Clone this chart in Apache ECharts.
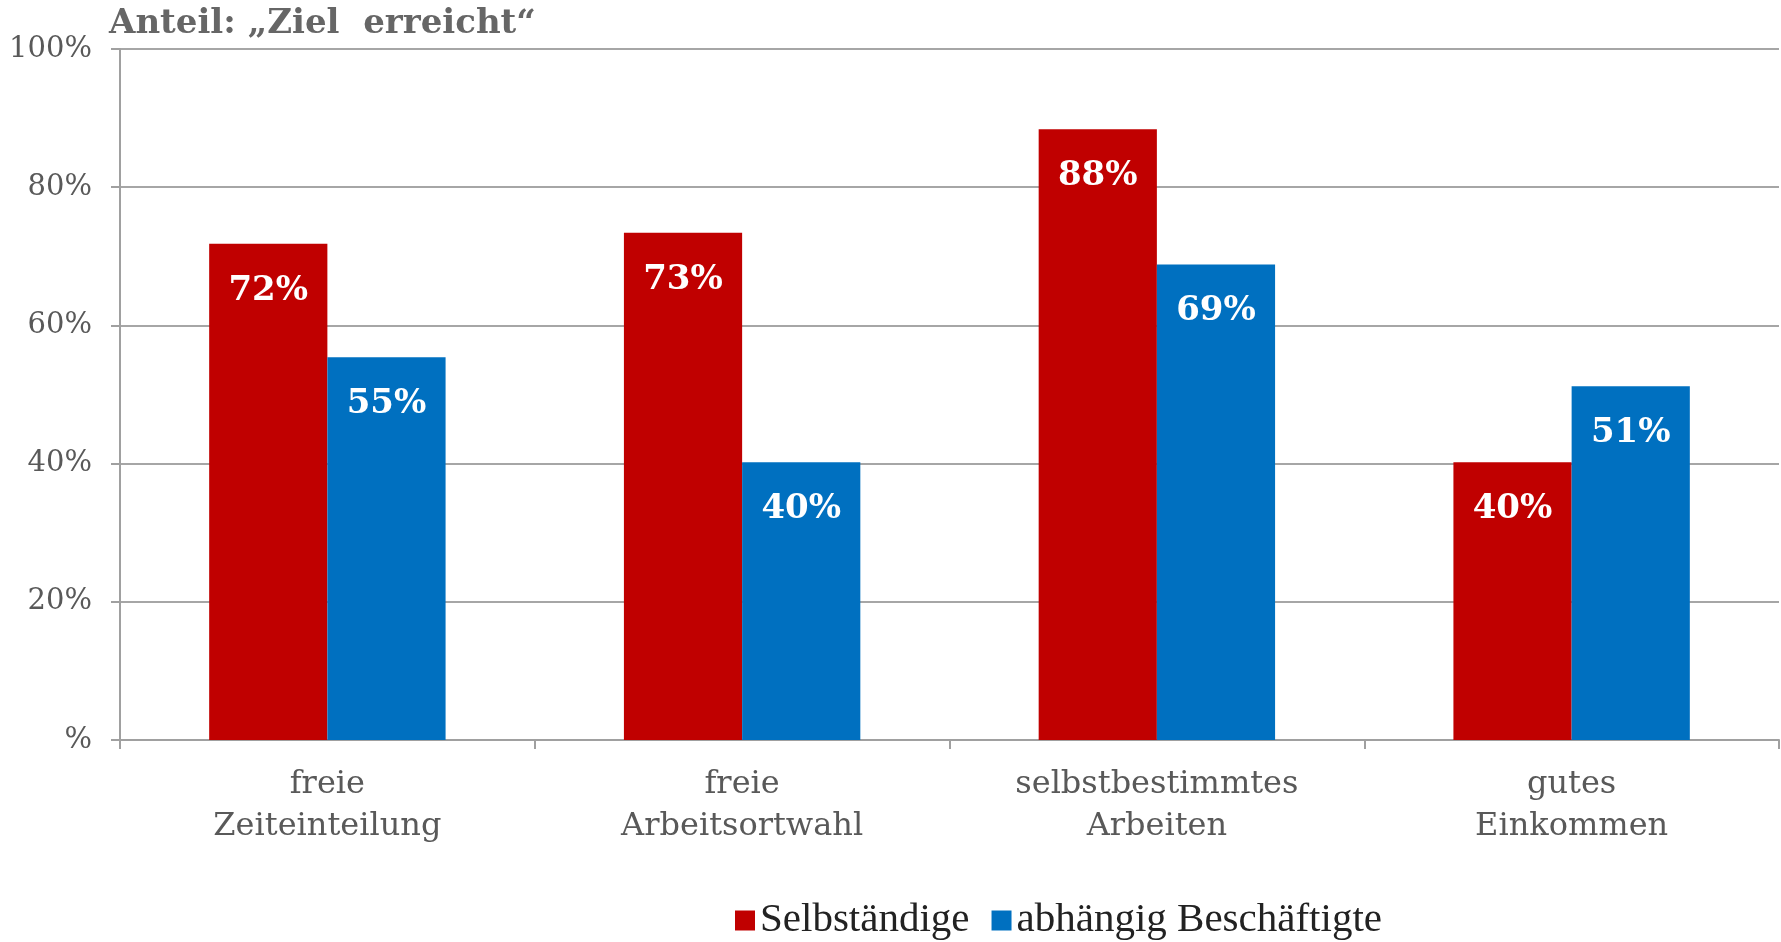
<!DOCTYPE html>
<html>
<head>
<meta charset="utf-8">
<title>Anteil: Ziel erreicht</title>
<script src="https://cdn.jsdelivr.net/npm/echarts@6/dist/echarts.min.js"></script>
<style>
  html, body { margin: 0; padding: 0; background: #fff; }
  #chart { width: 1781px; height: 942px; }
</style>
</head>
<body>
<div id="chart"></div>
<script>
// Daten
const categories = ['freie\nZeiteinteilung', 'freie\nArbeitsortwahl', 'selbstbestimmtes\nArbeiten', 'gutes\nEinkommen']
const selbstaendige = [71.8, 73.4, 88.4, 40.2]
const abhaengig = [55.4, 40.2, 68.8, 51.2]

const serif = 'DejaVu Serif, Liberation Serif, serif'
const grey = '#595959'

const chart = echarts.init(document.getElementById('chart'))

const barLabel = {
  show: true,
  position: 'insideTop',
  distance: 30,
  color: '#fff',
  fontFamily: serif,
  fontWeight: 'bold',
  fontSize: 34,
  formatter: (p) => Math.round(p.value) + '%',
}

chart.setOption({
  animation: false,
  title: {
    text: 'Anteil: „Ziel  erreicht“',
    left: 104,
    top: 2,
    textStyle: { fontFamily: serif, fontWeight: 'bold', fontSize: 34, color: '#666' },
  },
  legend: {
    top: 895,
    left: 730,
    itemWidth: 20,
    itemHeight: 20,
    itemGap: 22,
    icon: 'rect',
    textStyle: { fontFamily: 'Liberation Serif, serif', fontSize: 41, color: '#222' },
    data: ['Selbständige', 'abhängig Beschäftigte'],
  },
  grid: { left: 120, right: 2, top: 49, bottom: 202, containLabel: false },
  xAxis: {
    type: 'category',
    data: categories,
    axisLine: { lineStyle: { color: '#a0a0a0', width: 2 } },
    axisTick: { show: true, length: 9, lineStyle: { color: '#a0a0a0', width: 2 } },
    axisLabel: { fontFamily: serif, fontSize: 32, color: grey, margin: 24, lineHeight: 42 },
  },
  yAxis: {
    type: 'value',
    min: 0,
    max: 100,
    interval: 20,
    axisLine: { show: true, lineStyle: { color: '#a0a0a0', width: 2 } },
    axisTick: { show: true, length: 9, inside: false, lineStyle: { color: '#a0a0a0', width: 2 } },
    splitLine: { lineStyle: { color: '#a6a6a6', width: 2 } },
    axisLabel: {
      fontFamily: serif,
      fontSize: 29,
      color: grey,
      margin: 28,
      formatter: (v) => (v === 0 ? '%' : v + '%'),
    },
  },
  series: [
    {
      name: 'Selbständige',
      type: 'bar',
      data: selbstaendige,
      barGap: '0%',
      barCategoryGap: '43%',
      itemStyle: { color: '#C00000' },
      label: barLabel,
    },
    {
      name: 'abhängig Beschäftigte',
      type: 'bar',
      data: abhaengig,
      itemStyle: { color: '#0070C0' },
      label: barLabel,
    },
  ],
})
</script>
</body>
</html>
